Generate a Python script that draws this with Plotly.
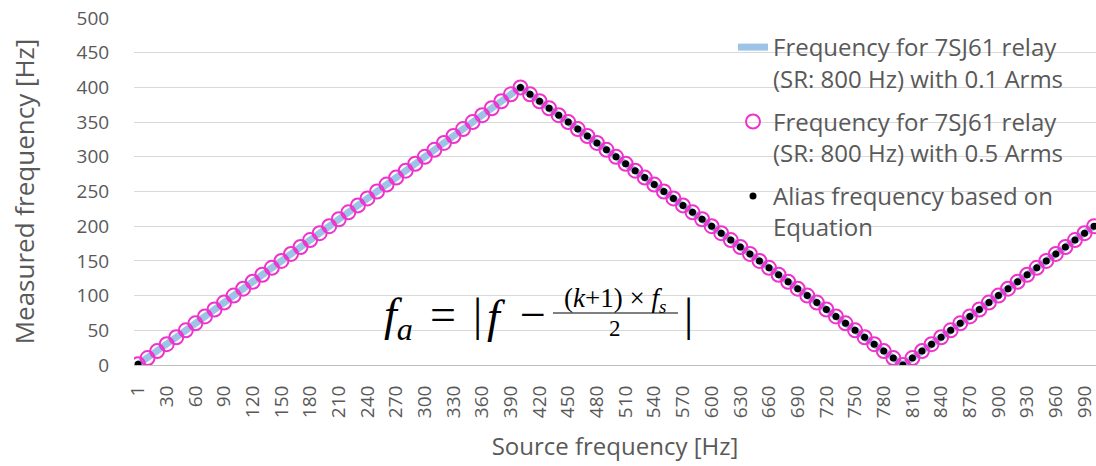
import plotly.graph_objects as go

source_hz = ["1", "10", "20", "30", "40", "50", "60", "70", "80", "90",
             "100", "110", "120", "130", "140", "150", "160", "170", "180", "190",
             "200", "210", "220", "230", "240", "250", "260", "270", "280", "290",
             "300", "310", "320", "330", "340", "350", "360", "370", "380", "390",
             "400", "410", "420", "430", "440", "450", "460", "470", "480", "490",
             "500", "510", "520", "530", "540", "550", "560", "570", "580", "590",
             "600", "610", "620", "630", "640", "650", "660", "670", "680", "690",
             "700", "710", "720", "730", "740", "750", "760", "770", "780", "790",
             "800", "810", "820", "830", "840", "850", "860", "870", "880", "890",
             "900", "910", "920", "930", "940", "950", "960", "970", "980", "990",
             "1000"]

measured_01 = [1, 10, 20, 30, 40, 50, 60, 70, 80, 90,
               100, 110, 120, 130, 140, 150, 160, 170, 180, 190,
               200, 210, 220, 230, 240, 250, 260, 270, 280, 290,
               300, 310, 320, 330, 340, 350, 360, 370, 380, 390,
               400, 390, 380, 370, 360, 350, 340, 330, 320, 310,
               300, 290, 280, 270, 260, 250, 240, 230, 220, 210,
               200, 190, 180, 170, 160, 150, 140, 130, 120, 110,
               100, 90, 80, 70, 60, 50, 40, 30, 20, 10,
               0, 10, 20, 30, 40, 50, 60, 70, 80, 90,
               100, 110, 120, 130, 140, 150, 160, 170, 180, 190,
               200]

measured_05 = [1, 10, 20, 30, 40, 50, 60, 70, 80, 90,
               100, 110, 120, 130, 140, 150, 160, 170, 180, 190,
               200, 210, 220, 230, 240, 250, 260, 270, 280, 290,
               300, 310, 320, 330, 340, 350, 360, 370, 380, 390,
               400, 390, 380, 370, 360, 350, 340, 330, 320, 310,
               300, 290, 280, 270, 260, 250, 240, 230, 220, 210,
               200, 190, 180, 170, 160, 150, 140, 130, 120, 110,
               100, 90, 80, 70, 60, 50, 40, 30, 20, 10,
               0, 10, 20, 30, 40, 50, 60, 70, 80, 90,
               100, 110, 120, 130, 140, 150, 160, 170, 180, 190,
               200]

alias_eq = [1, None, None, None, None, None, None, None, None, None,
            None, None, None, None, None, None, None, None, None, None,
            None, None, None, None, None, None, None, None, None, None,
            None, None, None, None, None, None, None, None, None, None,
            400, 390, 380, 370, 360, 350, 340, 330, 320, 310,
            300, 290, 280, 270, 260, 250, 240, 230, 220, 210,
            200, 190, 180, 170, 160, 150, 140, 130, 120, 110,
            100, 90, 80, 70, 60, 50, 40, 30, 20, 10,
            0, 10, 20, 30, 40, 50, 60, 70, 80, 90,
            100, 110, 120, 130, 140, 150, 160, 170, 180, 190,
            200]

x_tick_labels = ["1", "30", "60", "90", "120", "150", "180", "210", "240", "270",
                 "300", "330", "360", "390", "420", "450", "480", "510", "540", "570",
                 "600", "630", "660", "690", "720", "750", "780", "810", "840", "870",
                 "900", "930", "960", "990"]

y_ticks = [0, 50, 100, 150, 200, 250, 300, 350, 400, 450, 500]

FONT = "Open Sans"
GRAY = "#595959"

fig = go.Figure()
fig.add_trace(go.Scatter(
    x=source_hz, y=measured_01, mode="lines",
    line=dict(color="#9dc3e6", width=7),
    name="Frequency for 7SJ61 relay<br>(SR: 800 Hz) with 0.1 Arms",
    legendgroup="a"))
fig.add_trace(go.Scatter(
    x=source_hz, y=measured_05, mode="markers",
    marker=dict(symbol="circle-open", size=14, color="#f032cc", line=dict(width=2, color="#f032cc")),
    name="Frequency for 7SJ61 relay<br>(SR: 800 Hz) with 0.5 Arms",
    legendgroup="b"))
fig.add_trace(go.Scatter(
    x=source_hz, y=alias_eq, mode="markers",
    marker=dict(symbol="circle", size=7, color="black"),
    name="Alias frequency based on<br>Equation",
    legendgroup="c"))

# screen pixel -> paper coordinates (plot area spans x 134..1096, y 18..365)
def px(xp):
    return (xp - 134) / 962

def py(yp):
    return (365 - yp) / 347

serif = "Liberation Serif"
BLK = "black"
anns = [
    dict(x=px(382), y=py(318), xanchor="left", text="<i>f<sub>a</sub></i>", size=46),
    dict(x=px(443), y=py(314), xanchor="center", text="=", size=46),
    dict(x=px(477), y=py(314), xanchor="center", text="|", size=46),
    dict(x=px(496), y=py(316), xanchor="center", text="<i>f</i>", size=46),
    dict(x=px(533), y=py(314), xanchor="center", text="−", size=46),
    dict(x=px(615), y=py(300), xanchor="center", text="(<i>k</i>+1) × <i>f<sub>s</sub></i>", size=27),
    dict(x=px(615), y=py(328), xanchor="center", text="2", size=23),
    dict(x=px(688), y=py(314), xanchor="center", text="|", size=46),
]
annotations = []
for a in anns:
    annotations.append(dict(
        x=a["x"], y=a["y"], xanchor=a["xanchor"], yanchor="middle",
        xref="paper", yref="paper", showarrow=False, text=a["text"],
        font=dict(family=serif, size=a["size"], color=BLK)))

fig.update_layout(
    width=1096, height=466,
    margin=dict(l=134, r=0, t=18, b=101, autoexpand=False),
    paper_bgcolor="white", plot_bgcolor="white",
    font=dict(family=FONT, color=GRAY),
    annotations=annotations,
    shapes=[dict(type="line", xref="paper", yref="paper",
                 x0=px(553), x1=px(678), y0=py(313), y1=py(313),
                 line=dict(color=BLK, width=1))],
    legend=dict(x=px(733), y=py(25), xanchor="left", yanchor="top",
                bgcolor="rgba(0,0,0,0)", font=dict(family=FONT, size=24, color=GRAY),
                valign="top", tracegroupgap=9, itemwidth=30),
    xaxis=dict(type="category", range=[-0.42, 100.2], tickmode="array",
               tickvals=x_tick_labels, ticktext=x_tick_labels, tickangle=-90,
               tickfont=dict(size=19, color=GRAY), showgrid=False,
               showline=True, linecolor="#bfbfbf", linewidth=1, ticks="",
               ticklabelstandoff=12,
               title=dict(text="Source frequency [Hz]", font=dict(size=24, color=GRAY), standoff=21)),
    yaxis=dict(range=[0, 500], tickmode="array", tickvals=y_ticks,
               tickfont=dict(size=19, color=GRAY),
               showgrid=True, gridcolor="#d9d9d9", gridwidth=1, zeroline=False,
               ticks="outside", ticklen=20, tickcolor="rgba(0,0,0,0)", showline=False,
               title=dict(text="Measured frequency [Hz]", font=dict(size=26, color=GRAY), standoff=34)),
)

fig.write_html("out.html", config={"displayModeBar": False},
               post_script="document.body.style.margin='0';")
